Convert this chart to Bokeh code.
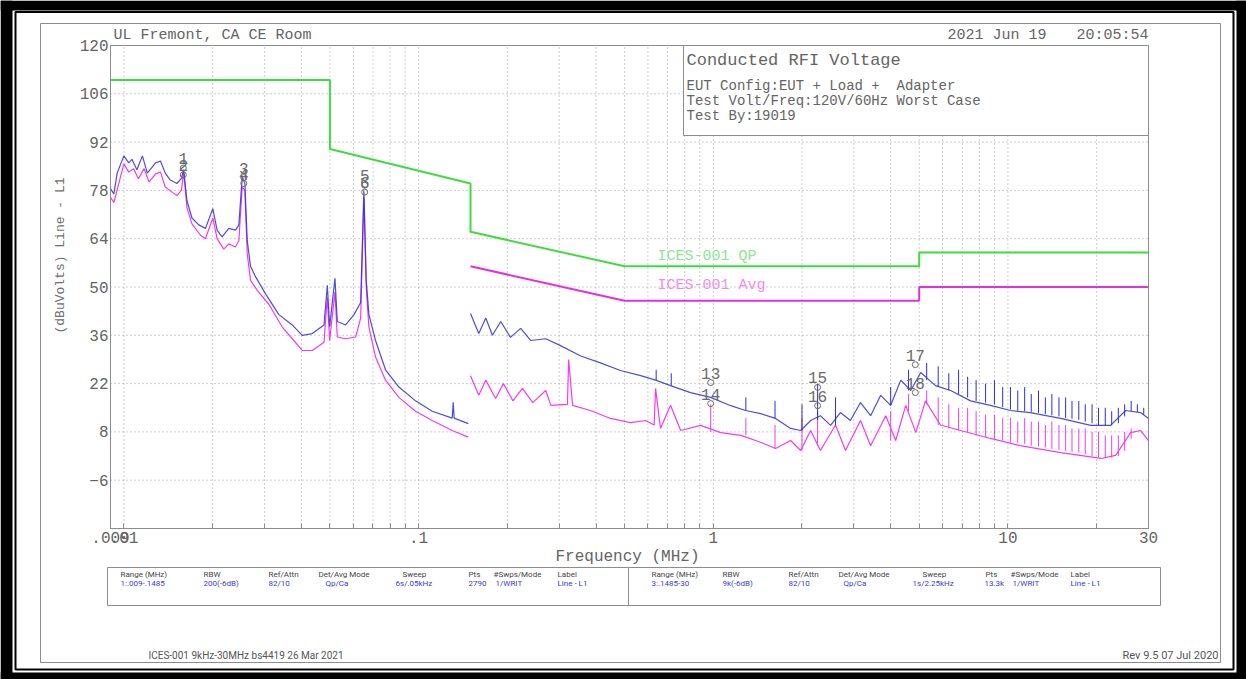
import math
from bokeh.plotting import figure
from bokeh.models import Range1d, FixedTicker, Label, BoxAnnotation, ColumnDataSource, LogAxis, LinearAxis
from bokeh.core.properties import value
from bokeh.embed import file_html
from bokeh.resources import INLINE

# ---------------- data ----------------
# measured trace, range 1 (0.009 - 0.1485 MHz)
r1_f = [0.0090, 0.00924, 0.00948, 0.00999, 0.01038, 0.01064, 0.01106, 0.01155, 0.0120, 0.0128,
        0.0133, 0.01381, 0.01436, 0.01512, 0.01566, 0.01594, 0.01636, 0.01701, 0.01794, 0.0189,
        0.02002, 0.0207, 0.02153, 0.02268, 0.02391, 0.02454, 0.02519, 0.02572, 0.0262, 0.02688,
        0.02795, 0.03023, 0.03355, 0.03724, 0.04027, 0.04356, 0.04773, 0.04899, 0.04989, 0.05201,
        0.05296, 0.05653, 0.06035, 0.06357, 0.0652, 0.06639, 0.0678, 0.0714, 0.0772, 0.0857,
        0.0976, 0.1112, 0.1300, 0.1310, 0.1320, 0.1474]
r1_qp = [78.5, 77, 83, 88, 86, 87, 84, 88, 83, 86,
         86.5, 83, 81, 80, 81.5, 84, 75, 70, 68, 67,
         72.7, 66.5, 64.5, 67, 66.5, 68, 82, 80, 63.5, 56,
         53, 48, 42, 39, 36, 36.5, 39, 50.5, 38.5, 52.5,
         40, 39, 42, 45.5, 78, 52, 42, 34.5, 26, 21,
         17, 14, 12, 16.6, 12, 10.4]
r1_av_f = [0.0090, 0.00924, 0.00999, 0.01038, 0.01078, 0.0112, 0.0117, 0.01216, 0.0128, 0.0133,
           0.01381, 0.01455, 0.01512, 0.01566, 0.01594, 0.01636, 0.01701, 0.01818, 0.0189, 0.02002,
           0.0207, 0.02181, 0.02268, 0.02391, 0.02454, 0.02519, 0.02572, 0.0262, 0.02688, 0.02832,
           0.03102, 0.03444, 0.03724, 0.04027, 0.04356, 0.04773, 0.04899, 0.04989, 0.05201, 0.05296,
           0.05653, 0.06114, 0.06357, 0.0652, 0.06639, 0.0678, 0.0714, 0.0772, 0.0857, 0.0976,
           0.1112, 0.1300, 0.1474]
r1_av = [76, 74.5, 85.7, 83.3, 84.3, 81.4, 84.3, 80.4, 82.8, 83.3,
         79, 77.5, 76.5, 78, 83.3, 73, 68.3, 65, 64, 70,
         64, 61, 62.5, 61.6, 63.5, 79, 78, 59.6, 52, 49,
         45, 38.4, 35, 31.6, 31.6, 34, 47, 34.5, 48.5, 35.5,
         35, 35.5, 41, 76, 50, 38.4, 29.7, 23, 18, 14,
         11.3, 8.4, 6.5]

# measured trace, range 3 (0.1485 - 30 MHz)
r3_f = [0.150, 0.160, 0.169, 0.178, 0.190, 0.205, 0.222, 0.240, 0.270, 0.303,
        0.355, 0.414, 0.484, 0.567, 0.637, 0.716, 0.837, 0.98, 1.146, 1.287,
        1.447, 1.627, 1.83, 1.98, 2.14, 2.31, 2.50, 2.70, 2.92, 3.16,
        3.42, 3.70, 4.00, 4.33, 4.68, 5.06, 5.68, 6.39, 7.47, 8.73,
        10.2, 11.9, 15.1, 19.1, 22.3, 25.1, 28.2, 30.0]
r3_qp = [42.3, 36.5, 41, 36, 40, 35.4, 38, 34.5, 35, 33,
         30, 28, 25.8, 24.3, 23, 21.4, 19.4, 18, 15.6, 14.2,
         13.3, 11.9, 9, 8.4, 11.3, 12.7, 9.9, 13.6, 11.3, 16.5,
         12.7, 18.6, 15.7, 23, 20, 25.2, 21.4, 20, 17, 15.7,
         14.2, 13.6, 11.9, 9.9, 9.9, 14.2, 13.6, 11.9]
r3_av_f = [0.150, 0.160, 0.169, 0.1825, 0.194, 0.209, 0.225, 0.244, 0.270, 0.281,
           0.320, 0.323, 0.333, 0.383, 0.448, 0.524, 0.589, 0.630, 0.637, 0.662,
           0.716, 0.775, 0.906, 1.06, 1.24, 1.447, 1.627, 1.83, 1.98, 2.14,
           2.31, 2.60, 2.81, 3.16, 3.42, 3.85, 4.16, 4.50, 4.87, 5.25,
           5.90, 6.91, 8.73, 11.0, 15.1, 20.7, 23.2, 26.1, 28.2, 30.0]
r3_av = [24.3, 18.6, 23, 17.7, 22, 17, 20.6, 16.5, 20, 15.7,
         16, 29, 15.7, 14.2, 11.9, 10.7, 11.3, 10, 20.6, 9,
         15.7, 8.4, 9.9, 7.8, 7, 5, 3.2, 5.5, 2.6, 8.4,
         2.6, 10, 2.6, 11.3, 4, 12.7, 5.5, 15.7, 7.8, 17,
         10, 8.4, 6.1, 4, 2, 0.3, 1.2, 7.8, 8.4, 5.5]

# narrow emission spikes (frequency, from, to)
qp_sp_f = [0.64, 0.72, 1.29, 1.62, 2.00, 2.26, 2.60, 4.00, 4.60, 5.30, 5.80, 6.30, 6.80, 7.30,
           7.80, 8.40, 9.00, 9.60, 10.2, 10.8, 11.4, 12.0, 12.7, 13.4, 14.1, 14.9, 15.7, 16.5,
           17.4, 18.3, 19.3, 20.3, 21.4, 22.5, 23.7, 24.9, 26.2, 27.5, 28.9]
qp_sp_lo = [23, 21.4, 14.2, 11.9, 8.4, 11.5, 10, 15.7, 20, 23, 21, 20, 19, 18,
            17, 16.5, 16, 15.2, 14.5, 14.2, 14, 13.8, 13.5, 13.2, 12.8, 12.5, 12, 11.8,
            11.5, 11, 10.5, 10, 9.9, 9.9, 10.5, 12.5, 14, 13.8, 13]
qp_sp_hi = [26, 25, 18, 17, 16, 22, 18, 21, 26, 28, 27, 25, 26, 24,
            23, 22, 23, 21, 21, 20, 21, 19, 20, 18, 19, 18, 18, 17,
            17, 16, 16, 15, 15, 14, 15, 16, 17, 16, 15]
av_sp_f = [0.98, 1.29, 1.62, 2.00, 2.26, 2.60, 4.00, 4.60, 5.30, 5.80, 6.30, 6.80, 7.30, 7.80,
           8.40, 9.00, 9.60, 10.2, 10.8, 11.4, 12.0, 12.7, 13.4, 14.1, 14.9, 15.7, 16.5, 17.4,
           18.3, 19.3, 20.3, 21.4, 22.5, 23.7, 24.9, 26.2]
av_sp_lo = [8, 7, 3.2, 2.6, 4, 10, 5.5, 14, 16, 10, 9, 8.4, 8, 7,
            6.5, 6, 5.5, 5, 4.8, 4.5, 4, 3.8, 3.5, 3, 2.8, 2.5, 2.2, 2,
            1.5, 1, 0.6, 0.4, 0.5, 1.0, 2.5, 6]
av_sp_hi = [16, 12, 10, 12, 14, 14, 14, 19, 20, 18, 16, 15, 15, 14,
            13, 13, 12, 12, 11, 12, 11, 11, 10, 11, 10, 10, 9, 9,
            9, 8, 8, 7, 7, 7, 8, 9]

# ICES-001 limits
qp_lim_f = [0.009, 0.05, 0.05, 0.15, 0.15, 0.5, 5, 5, 30]
qp_lim = [110, 110, 90, 80, 66, 56, 56, 60, 60]
av_lim_f = [0.15, 0.5, 5, 5, 30]
av_lim = [56, 46, 46, 50, 50]

# markers
mk_f = [0.0159, 0.0159, 0.0255, 0.0255, 0.0656, 0.0656, 0.98, 0.98, 2.26, 2.26, 4.85, 4.85]
mk_db = [84.5, 82.5, 81.7, 80.0, 79.5, 77.5, 22.3, 16.2, 20.9, 15.6, 27.5, 19.4]
mk_lbl = ["1", "2", "3", "4", "5", "6", "13", "14", "15", "16", "17", "18"]

y_ticks = [120, 106, 92, 78, 64, 50, 36, 22, 8, -6]
x_grid = [m * 10.0 ** e for e in (-2, -1, 0) for m in range(1, 10)] + [10.0, 20.0]
x_ticks = [0.009] + x_grid + [30.0]
x_labels = {0.009: ".009", 0.01: ".01", 0.1: ".1", 1.0: "1", 10.0: "10", 30.0: "30"}

# ---------------- layout helpers (page pixels -> data) ----------------
W, H = 1246, 679
PX0, PX1, PY0, PY1 = 110, 1148, 45, 528      # plot area in page pixels
F0, F1, D0, D1 = 0.009, 30.0, -20.0, 120.0


def fx(xp):
    return F0 * 10 ** ((xp - PX0) / (PX1 - PX0) * math.log10(F1 / F0))


def fy(yp):
    return D1 - (yp - PY0) * (D1 - D0) / (PY1 - PY0)


GRAY = "#646464"
LGRAY = "#8c8c8c"
MONO = "Liberation Mono"
SANS = "Roboto"

p = figure(width=W, height=H, x_axis_type="log", x_axis_location=None, y_axis_location=None,
           x_range=Range1d(fx(0), fx(W)), y_range=Range1d(fy(H), fy(0)),
           output_backend="svg", toolbar_location=None,
           min_border=0, min_border_left=0, min_border_right=0, min_border_top=0, min_border_bottom=0)
p.background_fill_color = "white"
p.border_fill_color = "white"
p.outline_line_color = None
p.xgrid.visible = False
p.ygrid.visible = False


def box(x0, y0, x1, y1, line=LGRAY, fill=None, lw=1):
    p.add_layout(BoxAnnotation(left=fx(x0), right=fx(x1), top=fy(y0), bottom=fy(y1),
                               fill_color=fill if fill else "white",
                               fill_alpha=1.0 if fill else 0.0,
                               line_color=line if line else "white", line_width=lw,
                               line_alpha=1.0 if line else 0.0))


def lab(xp, yp, text, size, color=GRAY, font=MONO, align="left", baseline="middle", angle=0.0):
    p.add_layout(Label(x=fx(xp), y=fy(yp), x_units="data", y_units="data", text=text,
                       text_font=font, text_font_size=size, text_color=color,
                       text_align=align, text_baseline=baseline, angle=angle))


# grid (dotted) limited to the plot area
p.segment(x0=x_grid, y0=[D0] * len(x_grid), x1=x_grid, y1=[D1] * len(x_grid),
          line_color="#9c9c9c", line_dash="1 3", line_width=1)
gy = y_ticks[1:]
p.segment(x0=[F0] * len(gy), y0=gy, x1=[F1] * len(gy), y1=gy,
          line_color="#9c9c9c", line_dash="1 3", line_width=1)

# axes drawn at the plot-area edges
xa = LogAxis(fixed_location=D0, bounds=(F0, F1), ticker=FixedTicker(ticks=x_ticks))
xa.major_label_overrides = {t: x_labels.get(t, "") for t in x_ticks}
xa.major_label_text_font = MONO
xa.major_label_text_font_size = "16px"
xa.major_label_text_color = GRAY
xa.major_label_standoff = 3
xa.major_tick_out = 0
xa.major_tick_in = 5
xa.major_tick_line_color = LGRAY
xa.minor_tick_out = 0
xa.minor_tick_in = 0
xa.axis_line_color = LGRAY
p.add_layout(xa, "below")

ya = LinearAxis(fixed_location=F0, bounds=(D0, D1), ticker=FixedTicker(ticks=y_ticks))
ya.major_label_text_font = MONO
ya.major_label_text_font_size = "16px"
ya.major_label_text_color = GRAY
ya.major_label_standoff = 2
ya.major_tick_out = 0
ya.major_tick_in = 0
ya.minor_tick_out = 0
ya.minor_tick_in = 0
ya.axis_line_color = LGRAY
p.add_layout(ya, "left")

# limits
p.line(qp_lim_f, qp_lim, line_color="#3fdc3f", line_width=2)
p.line(av_lim_f, av_lim, line_color="#e030e0", line_width=2)

# traces
BLUE = "#2e2ed2"
MAG = "#f03cf0"
p.line(r1_av_f, r1_av, line_color=MAG, line_width=1.2)
p.line(r1_f, r1_qp, line_color=BLUE, line_width=1.2, line_alpha=0.85)
p.line(r3_av_f, r3_av, line_color=MAG, line_width=1.2)
p.segment(x0=av_sp_f, y0=av_sp_lo, x1=av_sp_f, y1=av_sp_hi, line_color=MAG, line_width=1)
p.line(r3_f, r3_qp, line_color=BLUE, line_width=1.2, line_alpha=0.85)
p.segment(x0=qp_sp_f, y0=qp_sp_lo, x1=qp_sp_f, y1=qp_sp_hi, line_color=BLUE, line_width=1)

# markers
msrc = ColumnDataSource(dict(f=mk_f, db=mk_db, t=mk_lbl))
p.scatter("f", "db", source=msrc, marker="circle", size=6, fill_color=None,
          line_color="#6a6a6a", line_width=1)
p.text("f", "db", text="t", source=msrc, y_offset=-4, text_align="center",
       text_baseline="bottom", text_font=value(MONO), text_font_size="16px",
       text_color="#6a6a6a")

# plot-area outline
box(PX0, PY0, PX1, PY1)

# page frames
box(0, 0, 12, H, line=None, fill="black")
box(0, 0, W, 10, line=None, fill="black")
box(1236, 0, W, H, line=None, fill="black")
box(0, 672, W, H, line=None, fill="black")
box(15, 11.5, 1233, 669, line="black", lw=2)
box(40, 23, 1220, 662)

# info box
box(683, 45, 1148, 135, fill="white")
lab(686, 60, "Conducted RFI Voltage", "17px")
lab(686, 85, "EUT Config:EUT + Load +", "14px")
lab(896, 85, "Adapter", "14px")
lab(686, 100, "Test Volt/Freq:120V/60Hz Worst Case", "14px")
lab(686, 115, "Test By:19019", "14px")

# header texts
lab(113, 35, "UL Fremont, CA CE Room", "15px")
lab(1046, 35, "2021 Jun 19", "15px", align="right")
lab(1148, 35, "20:05:54", "15px", align="right")

# limit labels
lab(657, 256, "ICES-001 QP", "15px", color="#8ee68e")
lab(657, 285, "ICES-001 Avg", "15px", color="#f08cf0")

# axis titles
lab(60, 255, "(dBuVolts) Line - L1", "13px", color="#6e6e6e", align="center", angle=math.pi / 2)
lab(627, 556, "Frequency (MHz)", "16px", align="center")

# settings table
box(107, 567, 628, 605)
box(628, 567, 1160, 605)
HDR = ["Range (MHz)", "RBW", "Ref/Attn", "Det/Avg Mode", "Sweep", "Pts", "#Swps/Mode", "Label"]
VAL1 = ["1:.009-.1485", "200(-6dB)", "82/10", "Qp/Ca", "6s/.05kHz", "2790", "1/WRIT", "Line - L1"]
VAL3 = ["3:.1485-30", "9k(-6dB)", "82/10", "Qp/Ca", "1s/2.25kHz", "13.3k", "1/WRIT", "Line - L1"]
hx1 = [120, 203, 268, 318, 402, 468, 493, 557]
vx1 = [120, 203, 268, 325, 395, 468, 495, 557]
hx3 = [651, 722, 788, 838, 922, 985, 1010, 1070]
vx3 = [651, 722, 788, 843, 912, 984, 1012, 1070]
for i in range(8):
    lab(hx1[i], 574, HDR[i], "8px", color="#444444", font=SANS)
    lab(vx1[i], 583, VAL1[i], "8px", color="#3a3ad8", font=SANS)
    lab(hx3[i], 574, HDR[i], "8px", color="#444444", font=SANS)
    lab(vx3[i], 583, VAL3[i], "8px", color="#3a3ad8", font=SANS)

# footer
lab(148, 655, "ICES-001 9kHz-30MHz bs4419 26 Mar 2021", "10px", color="#555555", font=SANS)
lab(1218, 655, "Rev 9.5 07 Jul 2020", "11px", color="#555555", font=SANS, align="right")

open("out.html", "w").write(file_html(p, INLINE))
